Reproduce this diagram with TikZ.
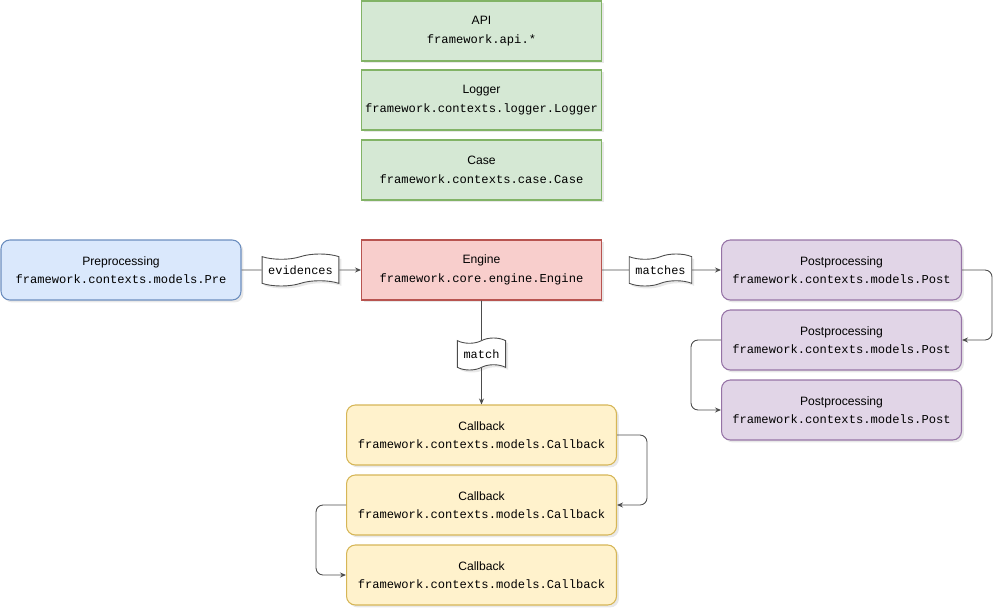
\documentclass[tikz,border=0pt]{standalone}
\usepackage{fontspec}
\setmainfont{Liberation Sans}
\setmonofont{Liberation Mono}
\usepackage{tikz}
\usetikzlibrary{arrows.meta,shapes.symbols,shadows}
\definecolor{ctxgreen}{HTML}{D5E8D4}
\definecolor{ctxgreenline}{HTML}{82B366}
\definecolor{engred}{HTML}{F8CECC}
\definecolor{engredline}{HTML}{B85450}
\definecolor{preblue}{HTML}{DAE8FC}
\definecolor{preblueline}{HTML}{6C8EBF}
\definecolor{postpurple}{HTML}{E1D5E7}
\definecolor{postpurpleline}{HTML}{9673A6}
\definecolor{cbyellow}{HTML}{FFF2CC}
\definecolor{cbyellowline}{HTML}{D6B656}
\newcommand{\modpath}[1]{{\ttfamily #1}}

\begin{document}
\begin{tikzpicture}[
  x=0.02cm, y=-0.02cm,
  every node/.style={font=\fontsize{6.9}{10.6}\selectfont},
  shade/.style={drop shadow={shadow xshift=1.4pt, shadow yshift=-1.4pt, opacity=0.18}},
  box/.style={shade, line width=0.6pt, minimum width=4.8cm, minimum height=1.2cm,
              align=center, inner sep=0pt},
  ctxbox/.style={box, draw=ctxgreenline, fill=ctxgreen},
  engbox/.style={box, draw=engredline, fill=engred},
  prebox/.style={box, rounded corners=5pt, draw=preblueline, fill=preblue},
  postbox/.style={box, rounded corners=5pt, draw=postpurpleline, fill=postpurple},
  cbbox/.style={box, rounded corners=5pt, draw=cbyellowline, fill=cbyellow,
                minimum width=5.4cm},
  tag/.style={shade, tape, tape bend height=3pt, draw=black!70, fill=white,
              line width=0.5pt, font=\fontsize{6.8}{8}\selectfont\ttfamily,
              inner xsep=3.5pt, inner ysep=1pt, minimum height=0.64cm},
  arrow/.style={-{Stealth[length=1.2mm, width=1mm]}, line width=0.5pt, draw=black!70},
  link/.style={arrow, rounded corners=4pt}
]
\useasboundingbox (0,0) rectangle (1001,612);
% context boxes
\node[ctxbox] (api) at (481.5,31) {API\\\modpath{framework.api.*}};
\node[ctxbox] (logger) at (481.5,100) {Logger\\\modpath{framework.contexts.logger.Logger}};
\node[ctxbox] (case) at (481.5,170) {Case\\\modpath{framework.contexts.case.Case}};
% main row
\node[prebox] (pre) at (121,270) {Preprocessing\\\modpath{framework.contexts.models.Pre}};
\node[engbox] (engine) at (481.5,270) {Engine\\\modpath{framework.core.engine.Engine}};
\node[postbox] (post1) at (841.5,270) {Postprocessing\\\modpath{framework.contexts.models.Post}};
\node[postbox] (post2) at (841.5,340) {Postprocessing\\\modpath{framework.contexts.models.Post}};
\node[postbox] (post3) at (841.5,410) {Postprocessing\\\modpath{framework.contexts.models.Post}};
% callbacks
\node[cbbox] (cb1) at (481.5,435) {Callback\\\modpath{framework.contexts.models.Callback}};
\node[cbbox] (cb2) at (481.5,505) {Callback\\\modpath{framework.contexts.models.Callback}};
\node[cbbox] (cb3) at (481.5,575) {Callback\\\modpath{framework.contexts.models.Callback}};
% labelled connectors
\node[tag] (evidences) at (300.5,270) {evidences};
\node[tag] (matches) at (660.5,270) {matches};
\node[tag] (match) at (481.5,354) {match};
\draw[line width=0.5pt, draw=black!70] (pre) -- (evidences);
\draw[arrow] (evidences) -- (engine);
\draw[line width=0.5pt, draw=black!70] (engine) -- (matches);
\draw[arrow] (matches) -- (post1);
\draw[line width=0.5pt, draw=black!70] (engine) -- (match);
\draw[arrow] (match) -- (cb1);
% chains
\draw[link] (post1.east) -- ++(30,0) |- (post2.east);
\draw[link] (post2.west) -- ++(-30,0) |- (post3.west);
\draw[link] (cb1.east) -- ++(30,0) |- (cb2.east);
\draw[link] (cb2.west) -- ++(-30,0) |- (cb3.west);
\end{tikzpicture}
\end{document}
